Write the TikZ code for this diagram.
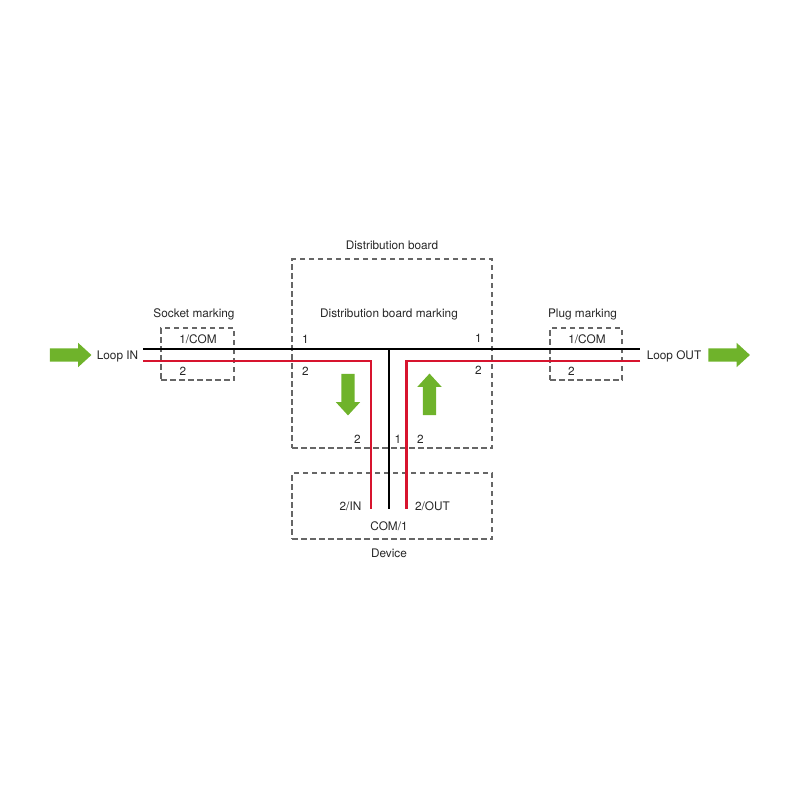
\documentclass[tikz,border=0pt]{standalone}
\usepackage{fontspec}
\setmainfont{TeX Gyre Heros}
\usetikzlibrary{shapes.arrows}
\definecolor{wirered}{HTML}{D7142E}
\definecolor{flowgreen}{HTML}{6FB32B}
\definecolor{boxgray}{HTML}{666666}
\tikzset{
	markbox/.style={draw=boxgray,line width=2pt,dash pattern=on 5.5pt off 3.5pt,minimum width=#1,inner sep=0pt},
	lbl/.style={font=\fontsize{11.8}{13}\selectfont,text=black!85,inner sep=0pt,text height=8.5pt,text depth=0pt},
	blackwire/.style={draw=black,line width=2.2pt},
	redwire/.style={draw=wirered,line width=2.2pt},
	flowarrow/.style={shape=single arrow,fill=flowgreen,minimum height=41.5pt,minimum width=24pt,inner sep=6.5pt,single arrow head extend=5.5pt,single arrow tip angle=85,shape border rotate=#1}
}
\begin{document}
\begin{tikzpicture}[x=1pt,y=-1pt]
\useasboundingbox (0,0) rectangle (800,800);

% Dashed boxes
\node [markbox=73pt,minimum height=52pt] (socket) at (197.5,354) {};
\node [markbox=72pt,minimum height=52pt] (plug) at (586,354) {};
\node [markbox=200pt,minimum height=189pt] (board) at (392,353.5) {};
\node [markbox=200pt,minimum height=66pt] (device) at (392,506) {};

% End points and corners of the wires
\coordinate (blackin) at (143,349);
\coordinate (blackout) at (640,349);
\coordinate (blackjoin) at (389,349);
\coordinate (blackend) at (389,509);
\coordinate (redin) at (143,361);
\coordinate (redincorner) at (371,361);
\coordinate (redinend) at (371,509);
\coordinate (redout) at (640,361);
\coordinate (redoutcorner) at (406.5,361);
\coordinate (redoutend) at (406.5,509);

% Wires
\draw [blackwire] (blackin)--(blackout);
\draw [blackwire] (blackjoin)--(blackend);
\draw [redwire,line join=miter] (redin)--(redincorner)--(redinend);
\draw [redwire,line join=miter] (redout)--(redoutcorner)--(redoutend);

% Green arrows
\node [flowarrow=0] (flowin) at (67,355) {};
\node [flowarrow=0] (flowout) at (725.5,355) {};
\node [flowarrow=270] (flowdown) at (348,391) {};
\node [flowarrow=90] (flowup) at (429.5,398) {};

% Titles
\node [lbl] (boardtitle) at (392,245) {Distribution board};
\node [lbl] (boardmark) at (389,313) {Distribution board marking};
\node [lbl] (sockettitle) at (194,313) {Socket marking};
\node [lbl] (plugtitle) at (582.5,313) {Plug marking};
\node [lbl] (devicetitle) at (389,553) {Device};
\node [lbl] (loopin) at (117.5,355) {Loop IN};
\node [lbl] (loopout) at (674,355) {Loop OUT};

% Pin markings
\node [lbl] (socketone) at (198,339) {1/COM};
\node [lbl] (sockettwo) at (183,371) {2};
\node [lbl] (plugone) at (587,339) {1/COM};
\node [lbl] (plugtwo) at (571.5,371) {2};
\node [lbl] (boardoneL) at (305.5,339) {1};
\node [lbl] (boardtwoL) at (305.5,371) {2};
\node [lbl] (boardoneR) at (478.5,338) {1};
\node [lbl] (boardtwoR) at (478.5,370) {2};
\node [lbl] (boardtwoA) at (357.5,439) {2};
\node [lbl] (boardoneB) at (398,439) {1};
\node [lbl] (boardtwoB) at (420.5,439) {2};
\node [lbl] (devicein) at (350.5,506) {2/IN};
\node [lbl] (deviceout) at (432.5,506) {2/OUT};
\node [lbl] (devicecom) at (389,526) {COM/1};
\end{tikzpicture}
\end{document}
